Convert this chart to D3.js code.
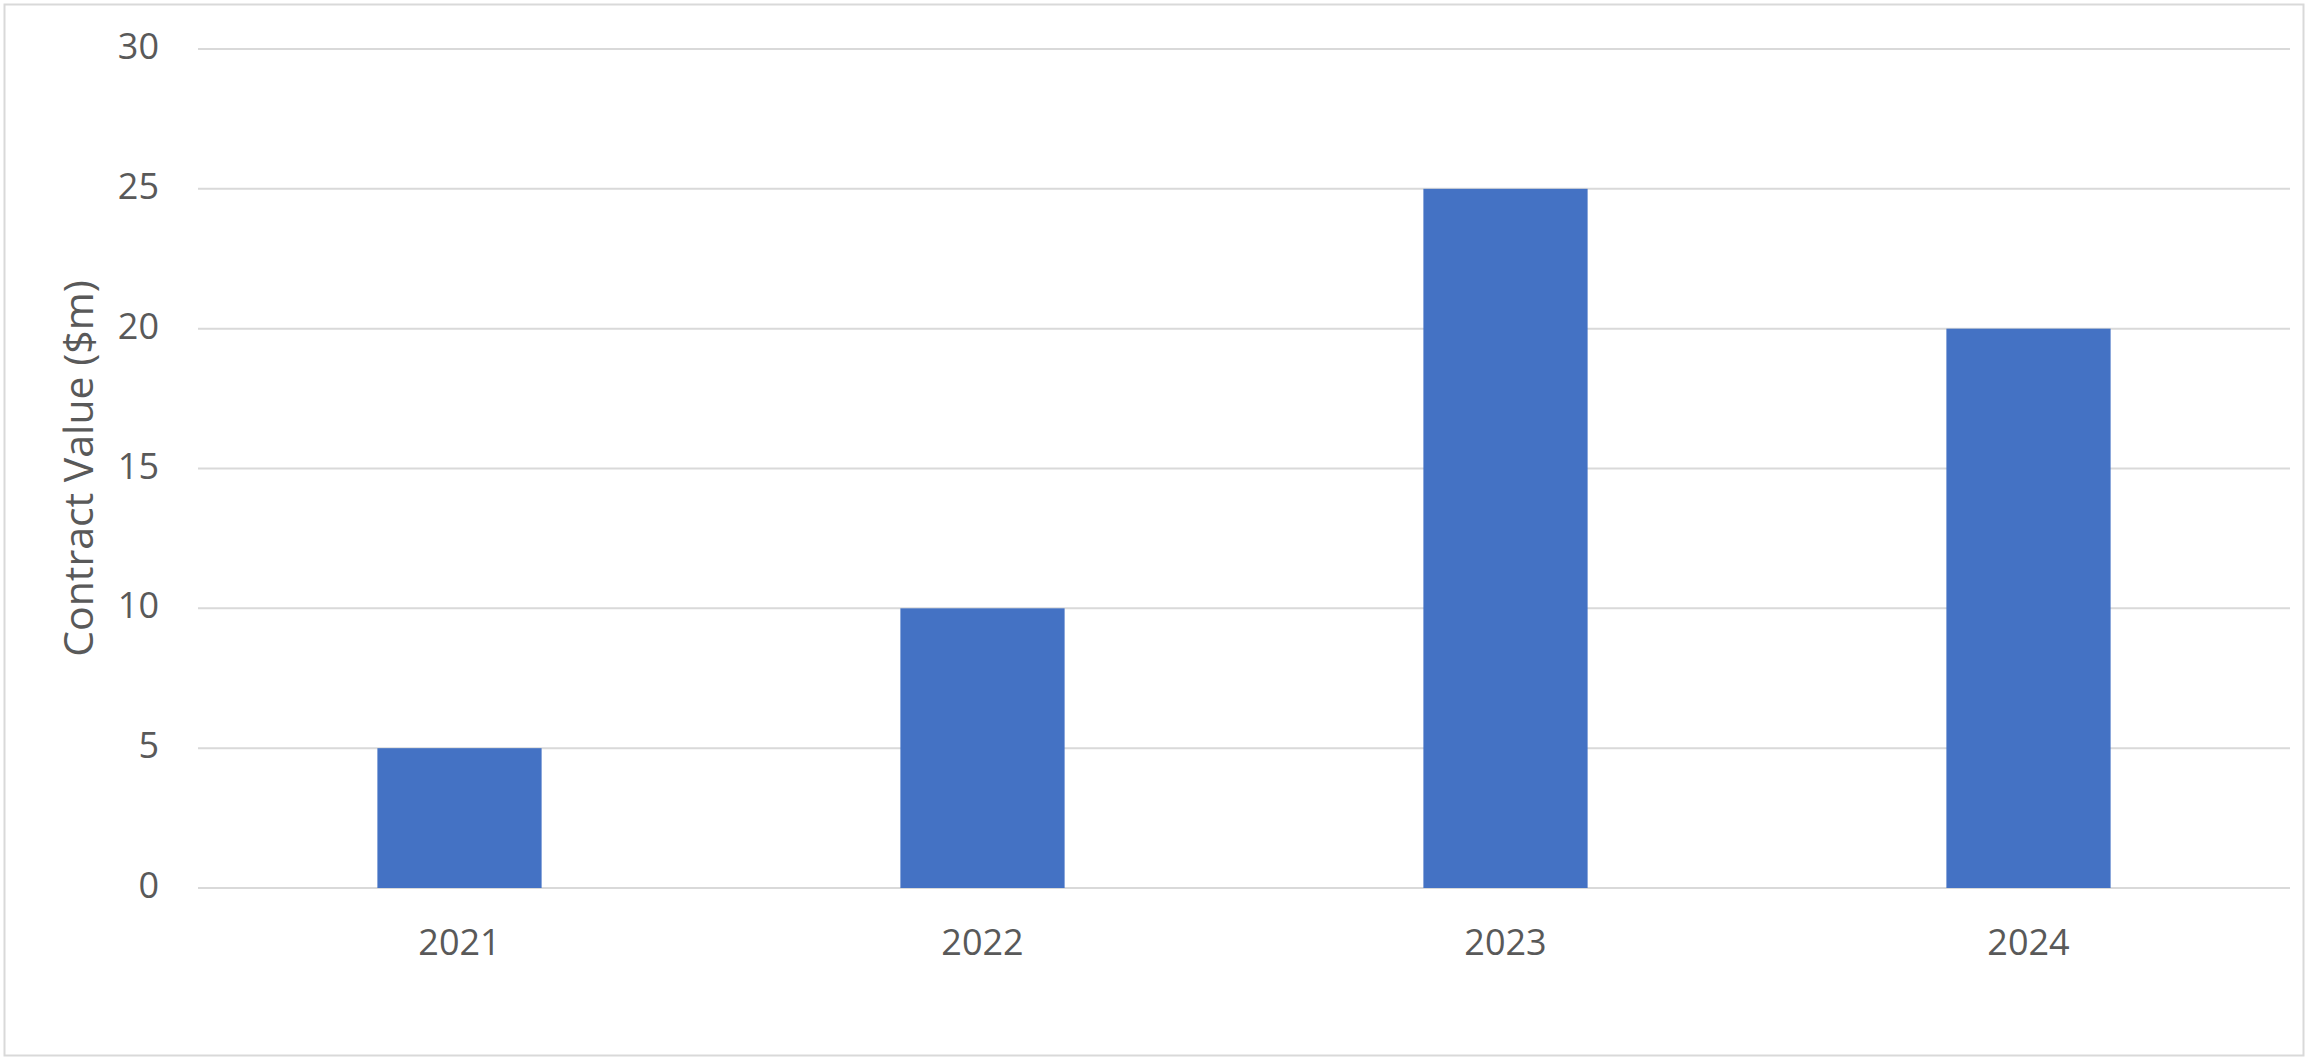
<!DOCTYPE html>
<html>
<head>
  <meta charset="utf-8">
  <title>Contract Value</title>
  <style>
    body { margin: 0; background: #fff; }
    svg { display: block; }
    text { font-family: "Open Sans", sans-serif; fill: #595959; }
  </style>
  <script src="https://cdn.jsdelivr.net/npm/d3@7"></script>
</head>
<body>
<div id="chart"></div>
<script>

var years = ["2021", "2022", "2023", "2024"];
var values = [5, 10, 25, 20];
var yTicks = [0, 5, 10, 15, 20, 25, 30];
var yTitle = "Contract Value ($m)";

var width = 2310,
    height = 1063;
var margin = {top: 49, right: 20, bottom: 175, left: 198};
var plotRight = 2290;

var svg = d3.select("#chart").append("svg")
  .attr("width", width)
  .attr("height", height);

// outer frame
svg.append("rect")
  .attr("x", 4.5).attr("y", 4.5)
  .attr("width", 2299).attr("height", 1051)
  .attr("fill", "none")
  .attr("stroke", "#d9d9d9")
  .attr("stroke-width", 2);

var x = d3.scaleBand()
  .domain(years)
  .range([margin.left, plotRight])
  .paddingInner(0.686)
  .paddingOuter(0.343);

var y = d3.scaleLinear()
  .domain([0, 30])
  .range([888, 49]);

// gridlines
svg.append("g")
  .selectAll("line")
  .data(yTicks)
  .join("line")
  .attr("x1", margin.left)
  .attr("x2", plotRight)
  .attr("y1", function(d) { return y(d); })
  .attr("y2", function(d) { return y(d); })
  .attr("stroke", "#d9d9d9")
  .attr("stroke-width", 2);

// bars
svg.append("g")
  .selectAll("rect")
  .data(values)
  .join("rect")
  .attr("x", function(d, i) { return x(years[i]); })
  .attr("width", x.bandwidth())
  .attr("y", function(d) { return y(d); })
  .attr("height", function(d) { return y(0) - y(d); })
  .attr("fill", "#4472c4");

// y tick labels
svg.append("g")
  .selectAll("text")
  .data(yTicks)
  .join("text")
  .attr("x", 159)
  .attr("y", function(d) { return y(d) + 10; })
  .attr("text-anchor", "end")
  .style("font-size", "36px")
  .text(function(d) { return d; });

// x labels
svg.append("g")
  .selectAll("text")
  .data(years)
  .join("text")
  .attr("x", function(d) { return x(d) + x.bandwidth() / 2; })
  .attr("y", 955)
  .attr("text-anchor", "middle")
  .style("font-size", "36px")
  .text(function(d) { return d; });

// y axis title
svg.append("text")
  .attr("transform", "translate(93," + ((y(0) + y(30)) / 2) + ") rotate(-90)")
  .attr("text-anchor", "middle")
  .style("font-size", "41px")
  .text(yTitle);

</script>
</body>
</html>
